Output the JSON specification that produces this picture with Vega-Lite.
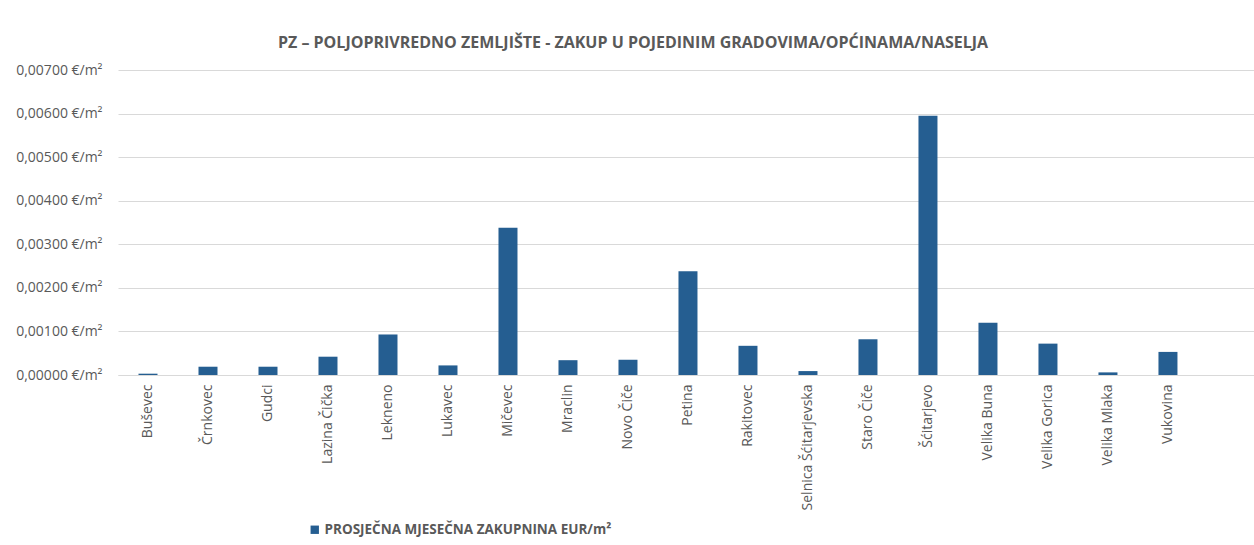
{
  "$schema": "https://vega.github.io/schema/vega-lite/v6.json",
  "autosize": {"type": "none"},
  "padding": {"left": 118, "top": 70, "right": 0, "bottom": 170},
  "width": 1136,
  "height": 305,
  "background": "white",
  "title": {
    "text": "PZ – POLJOPRIVREDNO ZEMLJIŠTE - ZAKUP U POJEDINIM GRADOVIMA/OPĆINAMA/NASELJA",
    "font": "Open Sans",
    "fontSize": 16,
    "fontWeight": "bold",
    "color": "#595959",
    "anchor": "middle",
    "dx": -53,
    "offset": 12
  },
  "data": {
    "values": [
      {"mjesto": "Buševec", "vrijednost": 0.00003},
      {"mjesto": "Črnkovec", "vrijednost": 0.00019},
      {"mjesto": "Gudci", "vrijednost": 0.00019},
      {"mjesto": "Lazina Čička", "vrijednost": 0.00042},
      {"mjesto": "Lekneno", "vrijednost": 0.00093},
      {"mjesto": "Lukavec", "vrijednost": 0.00022},
      {"mjesto": "Mičevec", "vrijednost": 0.00338},
      {"mjesto": "Mraclin", "vrijednost": 0.00034},
      {"mjesto": "Novo Čiče", "vrijednost": 0.00035},
      {"mjesto": "Petina", "vrijednost": 0.00238},
      {"mjesto": "Rakitovec", "vrijednost": 0.00067},
      {"mjesto": "Selnica Šćitarjevska", "vrijednost": 0.00009},
      {"mjesto": "Staro Čiče", "vrijednost": 0.00082},
      {"mjesto": "Šćitarjevo", "vrijednost": 0.00595},
      {"mjesto": "Velika Buna", "vrijednost": 0.0012},
      {"mjesto": "Velika Gorica", "vrijednost": 0.00072},
      {"mjesto": "Velika Mlaka", "vrijednost": 0.00006},
      {"mjesto": "Vukovina", "vrijednost": 0.00053}
    ]
  },
  "mark": {"type": "bar", "size": 19, "fill": "#255e91"},
  "encoding": {
    "x": {
      "field": "mjesto",
      "type": "nominal",
      "sort": null,
      "title": null,
      "scale": {"paddingInner": 0, "paddingOuter": 0.467, "align": 0},
      "axis": {
        "labelAngle": -90,
        "labelAlign": "right",
        "labelBaseline": "middle",
        "labelFont": "Open Sans",
        "labelFontSize": 14,
        "labelColor": "#595959",
        "labelPadding": 9,
        "ticks": false,
        "domainColor": "#d9d9d9",
        "domainWidth": 1,
        "grid": false
      }
    },
    "y": {
      "field": "vrijednost",
      "type": "quantitative",
      "title": null,
      "scale": {"domain": [0, 0.007], "nice": false},
      "axis": {
        "values": [0, 0.001, 0.002, 0.003, 0.004, 0.005, 0.006, 0.007],
        "labelExpr": "replace(format(datum.value, '.5f'), '.', ',') + ' €/m²'",
        "labelFont": "Open Sans",
        "labelFontSize": 14,
        "labelColor": "#595959",
        "labelPadding": 16,
        "ticks": false,
        "domain": false,
        "gridColor": "#d9d9d9",
        "gridWidth": 1
      }
    },
    "color": {
      "datum": "PROSJEČNA MJESEČNA ZAKUPNINA EUR/m²",
      "type": "nominal",
      "scale": {"range": ["#255e91"]},
      "legend": {
        "title": null,
        "orient": "none",
        "legendX": 190,
        "legendY": 453,
        "symbolType": "square",
        "symbolSize": 70,
        "labelFont": "Open Sans",
        "labelFontSize": 13.5,
        "labelFontWeight": "bold",
        "labelColor": "#595959",
        "labelOffset": 3,
        "labelLimit": 400
      }
    }
  },
  "config": {"view": {"stroke": null}}
}
